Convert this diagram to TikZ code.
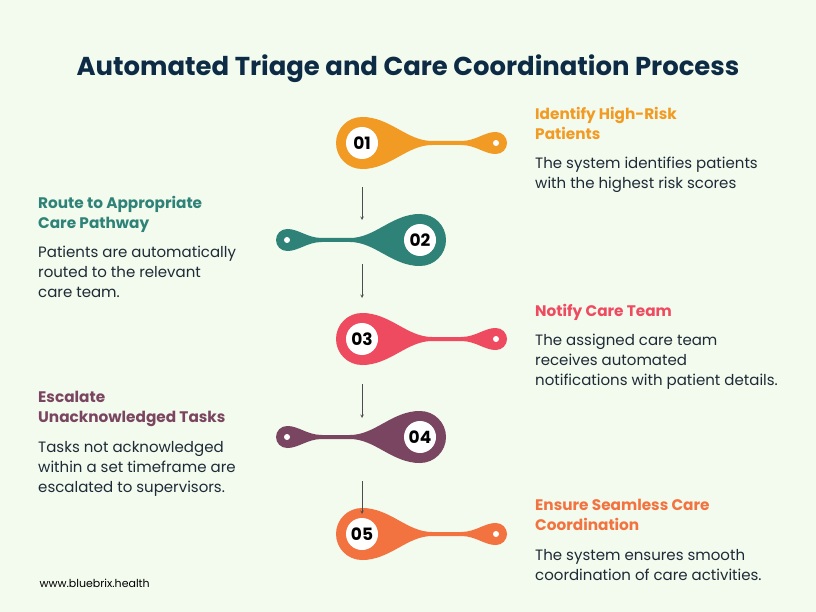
\documentclass[tikz,border=0pt]{standalone}
\usepackage{fontspec}
\setmainfont{Poppins}
\usetikzlibrary{positioning,calc}
\definecolor{bgc}{HTML}{F3FAEE}
\definecolor{navy}{HTML}{0D2B45}
\definecolor{cOne}{HTML}{F29B24}
\definecolor{cTwo}{HTML}{2E8277}
\definecolor{cThree}{HTML}{EE4B60}
\definecolor{cFour}{HTML}{7A4560}
\definecolor{cFive}{HTML}{F2733F}
\definecolor{txt}{HTML}{1E2A36}
\tikzset{
	head/.style={anchor=north west,font=\bfseries\fontsize{15.3}{20}\selectfont,align=left,inner sep=0pt},
	body/.style={anchor=north west,font=\fontsize{15}{20}\selectfont,text=txt,align=left,inner sep=0pt},
	num/.style={circle,fill=white,minimum size=32pt,inner sep=0pt,font=\bfseries\fontsize{17}{17}\selectfont},
	flow/.style={->,>=stealth,semithick,black!70}
}
% pin: #1 name, #2 big x, #3 small x, #4 y, #5 colour, #6 number
\newcommand{\pin}[6]{
	\fill[#5] (#2,#4) circle (26);
	\fill[#5] (#3,#4) circle (11);
	\pgfmathsetmacro{\dir}{#3>#2 ? 1 : -1}
	\fill[#5] (#2,#4-26) .. controls ($(#2,#4-26)+(\dir*28,0)$) and ($(#2,#4-2)+(\dir*45,0)$) .. ($(#2,#4-2)+(\dir*70,0)$)
		-- ($(#3,#4-2)+(-\dir*35,0)$) .. controls ($(#3,#4-2)+(-\dir*20,0)$) and ($(#3,#4-11)+(-\dir*12,0)$) .. (#3,#4-11)
		-- (#3,#4+11) .. controls ($(#3,#4+11)+(-\dir*12,0)$) and ($(#3,#4+2)+(-\dir*20,0)$) .. ($(#3,#4+2)+(-\dir*35,0)$)
		-- ($(#2,#4+2)+(\dir*70,0)$) .. controls ($(#2,#4+2)+(\dir*45,0)$) and ($(#2,#4+26)+(\dir*28,0)$) .. (#2,#4+26) -- cycle;
	\fill[white] (#3,#4) circle (3);
	\node[num] (#1) at (#2,#4) {#6};
}
\begin{document}
\begin{tikzpicture}[x=1pt,y=-1pt]
	\fill[bgc] (0,0) rectangle (816,612);
	\useasboundingbox (0,0) rectangle (816,612);
	
	\node[font=\bfseries\fontsize{25.9}{30}\selectfont,text=navy] (title) at (408,69) {Automated Triage and Care Coordination Process};
	
	\pin{p1}{362}{496}{143}{cOne}{01}
	\pin{p2}{420}{287}{240}{cTwo}{02}
	\pin{p3}{362}{496}{339}{cThree}{03}
	\pin{p4}{420}{287}{437}{cFour}{04}
	\pin{p5}{362}{496}{534}{cFive}{05}
	
	\coordinate (a1) at (362,187); \coordinate (b1) at (362,220);
	\coordinate (a2) at (362,264); \coordinate (b2) at (362,298);
	\coordinate (a3) at (362,384); \coordinate (b3) at (362,418);
	\coordinate (a4) at (362,481); \coordinate (b4) at (362,514);
	\foreach \i in {1,...,4} \draw[flow] (a\i) -- (b\i);
	
	\node[head,text=cOne] (h1) at (535,107) {Identify High-Risk\\Patients};
	\node[body] (t1) at (535,157) {The system identifies patients\\with the highest risk scores};
	\node[head,text=cTwo] (h2) at (38,196) {Route to Appropriate\\Care Pathway};
	\node[body] (t2) at (38,246) {Patients are automatically\\routed to the relevant\\care team.};
	\node[head,text=cThree] (h3) at (535,304) {Notify Care Team};
	\node[body] (t3) at (535,334) {The assigned care team\\receives automated\\notifications with patient details.};
	\node[head,text=cFour] (h4) at (38,391) {Escalate\\Unacknowledged Tasks};
	\node[body] (t4) at (38,441) {Tasks not acknowledged\\within a set timeframe are\\escalated to supervisors.};
	\node[head,text=cFive] (h5) at (535,499) {Ensure Seamless Care\\Coordination};
	\node[body] (t5) at (535,549) {The system ensures smooth\\coordination of care activities.};
	
	\node[anchor=west,font=\fontsize{11}{13}\selectfont,text=black] (web) at (36,583) {www.bluebrix.health};
\end{tikzpicture}
\end{document}
